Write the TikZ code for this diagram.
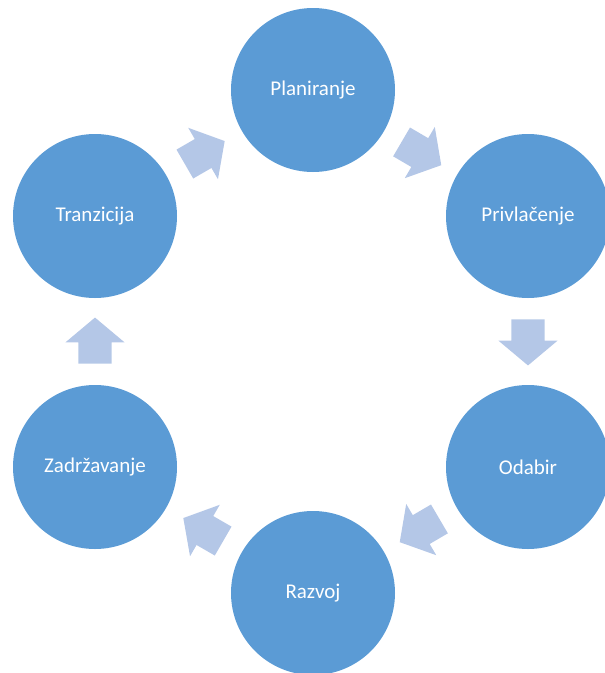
\documentclass[tikz,border=0pt]{standalone}
\usepackage{fontspec}
\setmainfont{Carlito}
\usepackage{tikz}
\usetikzlibrary{shapes.arrows}
\definecolor{stageblue}{RGB}{91,155,213}
\definecolor{flowblue}{RGB}{180,199,231}

\begin{document}
\begin{tikzpicture}[x=1pt, y=-1pt,
  stage/.style={circle, fill=stageblue, minimum size=164pt, inner sep=0pt,
    text=white, font=\fontsize{21}{25}\selectfont},
  flow/.style={single arrow, fill=flowblue, minimum height=46pt,
    inner xsep=0pt, inner ysep=16.5pt, single arrow head extend=13pt,
    single arrow tip angle=100, sloped, allow upside down}]

\useasboundingbox (0,0) rectangle (605,673);

% six stages round the cycle
\path
(313,90) node[stage] (plan) {Planiranje}
(528,216) node[stage] (privl) {Privlačenje}
(528,467) node[stage] (odabir) {Odabir}
(313,593) node[stage] (razvoj) {Razvoj}
(95,467) node[stage] (zadr) {Zadržavanje}
(95,216) node[stage] (tranz) {Tranzicija};

% block arrows between the stages (centre of the shape sits a bit before midway)
\foreach \a/\b in {tranz/plan, plan/privl, privl/odabir, odabir/razvoj, razvoj/zadr, zadr/tranz}
  {
    \path (\a) -- (\b) node[pos=0.43, flow] {};
  }

\end{tikzpicture}
\end{document}
